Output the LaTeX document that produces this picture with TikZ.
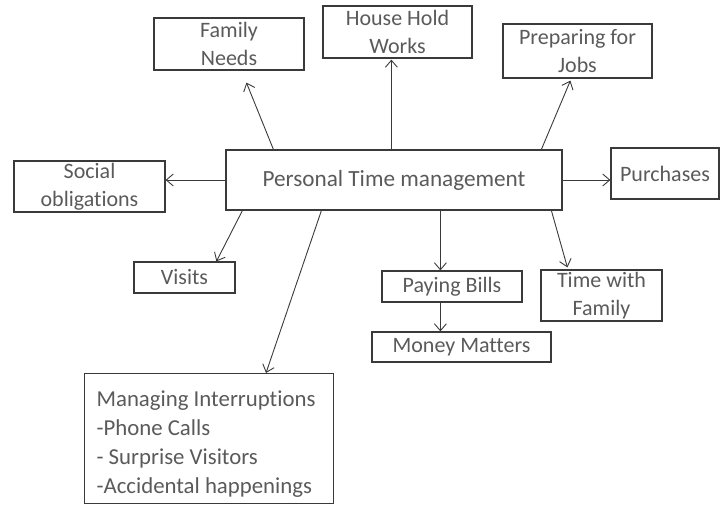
\documentclass[tikz,border=0pt]{standalone}
\usepackage{fontspec}
\setmainfont[Ligatures=NoCommon]{Carlito}
\usetikzlibrary{arrows.meta,calc}
\definecolor{txt}{HTML}{5A5A5A}
\definecolor{ln}{HTML}{3A3A3A}
\begin{document}
\begin{tikzpicture}[x=1pt,y=-1pt,
  box/.style={draw=ln,line width=1.2pt,text=txt,inner sep=0pt,align=center,font=\fontsize{22}{28}\selectfont},
  arr/.style={draw=ln,line width=0.9pt,-{Straight Barb[length=7pt,width=12pt,line width=0.9pt]}}]
\useasboundingbox (0,0) rectangle (721,504);
\node[box,minimum width=336,minimum height=60,font=\fontsize{23.2}{26}\selectfont] (c) at (394,180) {Personal Time management};
\node[box,minimum width=150,minimum height=52] (fn) at (229,44) {Family\\Needs};
\node[box,minimum width=149,minimum height=52] (hh) at (397.5,32) {House Hold\\Works};
\node[box,minimum width=149,minimum height=54] (pj) at (577.5,51) {Preparing for\\Jobs};
\node[box,minimum width=151,minimum height=51] (so) at (89.5,186.5) {Social\\obligations};
\node[box,minimum width=108,minimum height=51] (pu) at (665,173.5) {Purchases};
\node[box,minimum width=101,minimum height=31] (vi) at (184.5,277.5) {Visits};
\node[box,minimum width=140,minimum height=31] (pb) at (452,286.5) {Paying Bills};
\node[box,minimum width=179,minimum height=30] (mm) at (461.5,347) {Money Matters};
\node[box,minimum width=121,minimum height=51] (tf) at (601.5,295.5) {Time with\\Family};
\node[box,anchor=north west,align=left,text width=225,inner xsep=12,minimum height=130,
  font=\fontsize{22.8}{29}\selectfont] (mi) at (84,373)
  {\spaceskip=0pt\xspaceskip=0pt\rule{0pt}{27pt}Managing Interruptions\\-Phone Calls\\- Surprise Visitors\\-Accidental happenings};
\draw[arr] ([xshift=48]c.north west) -- ([xshift=93,yshift=-12]fn.south west);
\draw[arr] ([xshift=166]c.north west) -- ([xshift=69,yshift=-1]hh.south west);
\draw[arr] ([xshift=316]c.north west) -- ([xshift=68,yshift=-2]pj.south west);
\draw[arr] (c.west) -- (c.west -| so.east);
\draw[arr] (c.east) -- (c.east -| pu.west);
\draw[arr] ([xshift=17]c.south west) -- ([xshift=83]vi.north west);
\draw[arr] ([xshift=96]c.south west) -- ([xshift=182]mi.north west);
\draw[arr] ([xshift=215]c.south west) -- ([xshift=59]pb.north west);
\draw[arr] ([xshift=326]c.south west) -- ([xshift=27,yshift=2]tf.north west);
\draw[arr] ([xshift=59]pb.south west) -- ([xshift=69]mm.north west);
\end{tikzpicture}
\end{document}
